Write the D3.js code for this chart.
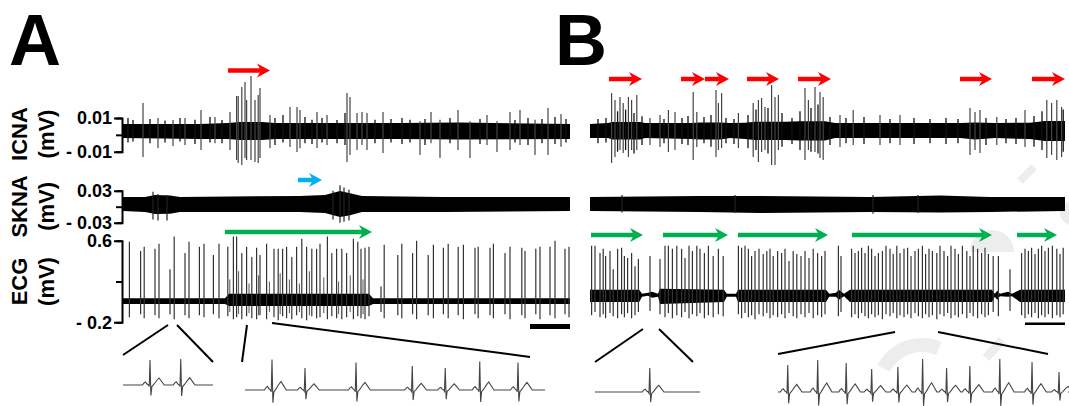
<!DOCTYPE html>
<html>
<head>
<meta charset="utf-8">
<script src="https://cdn.jsdelivr.net/npm/d3@7"></script>
<style>
  body { margin: 0; background: #fff; }
  svg { display: block; font-family: "Liberation Sans", Arial, sans-serif; }
</style>
</head>
<body>
<svg id="fig" width="1069" height="406"></svg>
<script>
// ---------- data (time in s, amplitude in mV) ----------
// noise band breakpoints: [t, upper, lower]
const icnaBandA = [[0,0.0064,-0.0019],[19.25,0.0064,-0.0025],[26.25,0.0070,-0.0025],[29.25,0.0076,-0.0031],[34.75,0.0076,-0.0031],[38,0.0070,-0.0025],[69.25,0.0070,-0.0025],[84.25,0.0073,-0.0028],[111.75,0.0064,-0.0025]];
const icnaBandB = [[0,0.0064,-0.0019],[4.5,0.0070,-0.0019],[5.5,0.0076,-0.0028],[12.5,0.0076,-0.0028],[13.75,0.0070,-0.0019],[25,0.0070,-0.0025],[27.5,0.0074,-0.0028],[32.5,0.0074,-0.0028],[35,0.0070,-0.0019],[38.75,0.0072,-0.0025],[41.25,0.0078,-0.0030],[48.75,0.0078,-0.0030],[52.5,0.0080,-0.0033],[58.75,0.0080,-0.0033],[61.25,0.0070,-0.0019],[92.5,0.0070,-0.0019],[96.25,0.0074,-0.0028],[101.25,0.0070,-0.0019],[110,0.0072,-0.0025],[113.75,0.0082,-0.0036],[118.75,0.0082,-0.0036]];
// spikes: [t, max, min]
const icnaSpikesA = [[5,0.0189,-0.0131],[8.75,0.0100,-0.0078],[12.5,0.0088,-0.0066],[15.5,0.0100,-0.0060],[19.5,0.0147,-0.0090],[23,0.0106,-0.0050],[26.75,0.0136,-0.0090],[28.4,0.0230,-0.0149],[28.8,0.0230,-0.0167],[29.7,0.0284,-0.0179],[30.5,0.0313,-0.0137],[30.9,0.0207,-0.0149],[32,0.0349,-0.0149],[33,0.0207,-0.0161],[33.8,0.0236,-0.0167],[34.25,0.0278,-0.0137],[36.75,0.0118,-0.0078],[41.75,0.0165,-0.0072],[43.5,0.0165,-0.0102],[44.25,0.0147,-0.0080],[48.5,0.0136,-0.0078],[51,0.0118,-0.0060],[56,0.0249,-0.0161],[56.75,0.0225,-0.0119],[58.5,0.0130,-0.0090],[59.75,0.0136,-0.0060],[61,0.0130,-0.0090],[65,0.0136,-0.0108],[74.25,0.0080,-0.0119],[77,0.0136,-0.0050],[79.25,0.0090,-0.0137],[83.75,0.0147,-0.0090],[86.75,0.0080,-0.0137],[91,0.0118,-0.0060],[93.5,0.0080,-0.0102],[96.75,0.0136,-0.0090],[99.25,0.0147,-0.0060],[103,0.0090,-0.0119],[106.25,0.0159,-0.0119],[109.5,0.0124,-0.0070]];
// small hairs poking out of the band
const icnaHairsA = [[1.25,0.0100,-0.0045],[2.5,0.0088,-0.0040],[6.75,0.0094,-0.0050],[10.5,0.0085,-0.0045],[14.25,0.0100,-0.0040],[18,0.0090,-0.0055],[21.75,0.0106,-0.0045],[24.75,0.0088,-0.0050],[38,0.0100,-0.0060],[40,0.0118,-0.0045],[45.5,0.0106,-0.0050],[47.25,0.0090,-0.0055],[49.75,0.0100,-0.0045],[53.5,0.0088,-0.0050],[55.5,0.0130,-0.0060],[63,0.0090,-0.0050],[67,0.0094,-0.0045],[69.75,0.0100,-0.0055],[71.75,0.0090,-0.0045],[75.5,0.0094,-0.0060],[81.75,0.0100,-0.0050],[89.25,0.0094,-0.0055],[98,0.0088,-0.0045],[101.25,0.0100,-0.0060],[104.75,0.0094,-0.0050],[108,0.0106,-0.0055],[110.75,0.0094,-0.0045]];
const icnaSpikesB = [[5.4,0.0248,-0.0167],[6.25,0.0207,-0.0131],[7.5,0.0225,-0.0090],[8.3,0.0189,-0.0108],[9.6,0.0225,-0.0131],[10.4,0.0207,-0.0090],[11.7,0.0237,-0.0090],[15,0.0100,-0.0060],[17.5,0.0118,-0.0072],[19.6,0.0147,-0.0102],[21.25,0.0136,-0.0090],[25.8,0.0254,-0.0149],[26.7,0.0136,-0.0072],[31.5,0.0266,-0.0131],[32.1,0.0189,-0.0090],[32.9,0.0248,-0.0078],[37.1,0.0130,-0.0078],[40.8,0.0189,-0.0131],[42.1,0.0207,-0.0161],[42.9,0.0219,-0.0102],[43.75,0.0165,-0.0090],[45.4,0.0296,-0.0179],[46.25,0.0225,-0.0179],[47.1,0.0237,-0.0090],[53.75,0.0278,-0.0149],[54.6,0.0207,-0.0090],[56.25,0.0284,-0.0102],[57.5,0.0254,-0.0137],[58.3,0.0225,-0.0149],[62.5,0.0118,-0.0072],[65.8,0.0147,-0.0060],[72.5,0.0118,-0.0060],[77.5,0.0118,-0.0060],[95,0.0159,-0.0120],[96.25,0.0136,-0.0090],[97.5,0.0147,-0.0108],[101.7,0.0106,-0.0060],[108.75,0.0147,-0.0072],[114.2,0.0207,-0.0137],[115.4,0.0189,-0.0120],[116.7,0.0207,-0.0149],[117.9,0.0165,-0.0131]];
const icnaHairsB = [[2,0.0094,-0.0050],[4,0.0100,-0.0045],[6.9,0.0140,-0.0100],[8.9,0.0150,-0.0090],[11,0.0130,-0.0110],[13,0.0110,-0.0060],[18.5,0.0094,-0.0050],[23,0.0100,-0.0055],[24.5,0.0112,-0.0060],[28.5,0.0106,-0.0050],[30.25,0.0118,-0.0070],[34,0.0100,-0.0050],[36,0.0094,-0.0055],[39.5,0.0118,-0.0080],[41.5,0.0150,-0.0090],[44.5,0.0160,-0.0110],[48,0.0130,-0.0070],[50.5,0.0100,-0.0055],[52.5,0.0140,-0.0090],[55.25,0.0160,-0.0100],[57,0.0180,-0.0110],[60,0.0106,-0.0060],[64,0.0100,-0.0050],[68.5,0.0106,-0.0055],[75,0.0094,-0.0050],[81,0.0100,-0.0055],[85,0.0094,-0.0050],[89,0.0100,-0.0055],[92,0.0094,-0.0050],[99,0.0100,-0.0060],[104,0.0094,-0.0050],[106.5,0.0100,-0.0055],[111,0.0112,-0.0070],[113,0.0140,-0.0090],[118.3,0.0150,-0.0100]];

const sknaBandA = [[0,0.0182,-0.0081],[5.5,0.0182,-0.0099],[8,0.0220,-0.0137],[11.75,0.0210,-0.0130],[14.25,0.0182,-0.0099],[44.25,0.0201,-0.0099],[50.5,0.0220,-0.0118],[54.25,0.0295,-0.0193],[56.75,0.0250,-0.0160],[59.75,0.0201,-0.0099],[80,0.0182,-0.0099],[111.75,0.0182,-0.0081]];
const sknaBandB = [[0,0.0182,-0.0081],[27.5,0.0201,-0.0099],[42.5,0.0201,-0.0118],[70,0.0182,-0.0099],[87.5,0.0210,-0.0110],[100,0.0182,-0.0099],[118.75,0.0182,-0.0081]];
const sknaSpikesA = [[7.5,0.028,-0.024],[8.75,0.024,-0.026],[11,0.022,-0.026],[52.5,0.030,-0.024],[54.25,0.040,-0.030],[55.25,0.036,-0.028],[56.5,0.032,-0.026]];
const sknaSpikesB = [[8,0.022,-0.011],[36.25,0.022,-0.012],[70.75,0.022,-0.013],[82,0.022,-0.012]];

const ecgBandA = [[0,0.035,-0.02],[25.5,0.035,-0.02],[26.5,0.08,-0.04],[61.5,0.08,-0.04],[62.5,0.035,-0.02],[111.75,0.035,-0.02]];
const ecgBandB = [[0,0.12,0.0],[12.3,0.12,0.0],[13,0.08,0.05],[14.5,0.09,0.06],[15.5,0.10,0.04],[17,0.08,0.05],[17.5,0.13,-0.02],[33.5,0.12,0.0],[34.2,0.08,0.05],[36.5,0.08,0.05],[37,0.12,0.0],[59,0.12,0.0],[59.8,0.08,0.05],[61.5,0.09,0.05],[62.2,0.12,0.02],[63.5,0.08,0.055],[65,0.12,0.0],[100.5,0.12,0.0],[101.2,0.08,0.05],[101.8,0.11,0.02],[102.5,0.08,0.055],[104.5,0.10,0.05],[105.5,0.08,0.055],[107.5,0.12,0.0],[118.75,0.12,0.0]];
// beats: [t, R peak, S trough]
const ecgBeatsA = [[1.6,0.59,-0.15],[4.4,0.50,-0.12],[5.3,0.54,-0.16],[8.0,0.52,-0.13],[9.0,0.57,-0.16],[11.75,0.32,-0.12],[12.8,0.64,-0.17],[15.5,0.48,-0.13],[16.5,0.59,-0.16],[19.1,0.54,-0.13],[20.25,0.57,-0.15],[22.6,0.46,-0.12],[24.0,0.57,-0.16],[26.2,0.54,-0.14],[27.6,0.64,-0.17],[28.4,0.64,-0.15],[29.7,0.48,-0.17],[30.9,0.54,-0.14],[32.2,0.44,-0.16],[33.4,0.53,-0.17],[34.25,0.46,-0.13],[35.9,0.57,-0.17],[37.75,0.52,-0.15],[38.8,0.52,-0.18],[39.9,0.52,-0.14],[40.9,0.54,-0.16],[42.2,0.44,-0.17],[43.4,0.54,-0.13],[44.7,0.62,-0.16],[45.9,0.54,-0.18],[47.2,0.52,-0.14],[48.4,0.52,-0.16],[49.25,0.57,-0.15],[51.1,0.64,-0.17],[52.2,0.48,-0.14],[53.4,0.52,-0.16],[54.7,0.52,-0.17],[55.9,0.48,-0.15],[57.6,0.62,-0.17],[58.7,0.59,-0.14],[59.5,0.52,-0.16],[60.5,0.53,-0.17],[61.5,0.54,-0.14],[64.5,0.15,-0.10],[65.3,0.56,-0.16],[68.7,0.46,-0.13],[69.7,0.57,-0.16],[72.4,0.48,-0.12],[73.4,0.60,-0.17],[76.3,0.46,-0.13],[77.6,0.56,-0.16],[80.1,0.53,-0.12],[81.3,0.57,-0.16],[83.8,0.54,-0.13],[85.1,0.56,-0.17],[88.0,0.53,-0.12],[88.8,0.54,-0.16],[91.75,0.53,-0.13],[92.6,0.57,-0.16],[95.5,0.48,-0.12],[96.75,0.54,-0.17],[99.7,0.53,-0.13],[100.5,0.50,-0.16],[103.2,0.52,-0.12],[104.25,0.54,-0.17],[106.75,0.54,-0.13],[108.0,0.60,-0.16],[110.5,0.52,-0.12],[111.5,0.54,-0.15]];
// extra QRS fragments in the fast stretch of A
const ecgFragA = [[26.7,0.22,-0.10],[28.9,0.30,-0.12],[31.5,0.18,-0.11],[33.9,0.26,-0.13],[36.6,0.20,-0.10],[39.3,0.28,-0.12],[41.6,0.22,-0.11],[44.1,0.18,-0.10],[46.6,0.30,-0.13],[50.2,0.24,-0.11],[53.9,0.20,-0.12],[56.8,0.26,-0.10],[60.0,0.22,-0.12]];
const ecgBeatsB = [[0.4,0.55,-0.13],[1.25,0.55,-0.10],[2.5,0.48,-0.15],[3.3,0.52,-0.12],[3.9,0.45,-0.16],[5.0,0.50,-0.11],[5.8,0.32,-0.14],[6.9,0.52,-0.16],[7.9,0.53,-0.12],[8.6,0.45,-0.15],[9.4,0.43,-0.11],[10.4,0.48,-0.16],[11.25,0.35,-0.13],[12.1,0.42,-0.10],[15.0,0.45,-0.09],[17.5,0.42,-0.12],[18.75,0.55,-0.15],[19.6,0.55,-0.11],[20.6,0.52,-0.16],[21.7,0.55,-0.13],[22.9,0.52,-0.15],[23.75,0.43,-0.10],[24.75,0.55,-0.16],[25.6,0.50,-0.12],[26.7,0.55,-0.14],[27.5,0.52,-0.11],[28.6,0.48,-0.16],[29.6,0.55,-0.13],[30.8,0.45,-0.15],[32.1,0.52,-0.12],[33.3,0.45,-0.14],[37.1,0.55,-0.12],[37.9,0.53,-0.16],[38.75,0.55,-0.11],[39.6,0.52,-0.15],[40.4,0.45,-0.13],[41.25,0.50,-0.17],[42.25,0.52,-0.12],[43.3,0.47,-0.14],[44.2,0.50,-0.11],[45.0,0.52,-0.16],[45.8,0.45,-0.13],[46.9,0.50,-0.15],[47.9,0.48,-0.12],[48.75,0.52,-0.16],[49.75,0.40,-0.11],[50.8,0.50,-0.14],[51.7,0.47,-0.16],[52.75,0.45,-0.12],[53.75,0.50,-0.15],[54.75,0.43,-0.11],[55.8,0.52,-0.16],[56.9,0.48,-0.13],[57.9,0.45,-0.15],[58.75,0.50,-0.12],[62.1,0.55,-0.14],[62.75,0.45,-0.10],[65.4,0.52,-0.15],[66.25,0.48,-0.12],[67.1,0.50,-0.16],[67.9,0.53,-0.11],[68.75,0.48,-0.14],[69.6,0.55,-0.16],[70.4,0.52,-0.12],[71.25,0.45,-0.15],[72.1,0.48,-0.13],[73.1,0.50,-0.17],[74.0,0.55,-0.12],[75.0,0.52,-0.14],[75.8,0.47,-0.11],[76.7,0.55,-0.16],[77.5,0.48,-0.13],[78.5,0.52,-0.15],[79.4,0.53,-0.12],[80.25,0.45,-0.16],[81.25,0.50,-0.11],[82.1,0.52,-0.14],[83.1,0.55,-0.16],[83.9,0.47,-0.12],[84.75,0.52,-0.15],[85.6,0.50,-0.13],[86.7,0.48,-0.17],[87.5,0.55,-0.12],[88.5,0.50,-0.14],[89.4,0.45,-0.11],[90.25,0.55,-0.16],[91.25,0.52,-0.13],[92.1,0.47,-0.15],[93.1,0.55,-0.12],[94.2,0.50,-0.16],[95.0,0.45,-0.11],[95.8,0.55,-0.14],[96.9,0.52,-0.16],[97.9,0.48,-0.12],[98.75,0.53,-0.15],[99.6,0.47,-0.13],[100.8,0.45,-0.10],[102.1,0.45,-0.14],[105.0,0.32,-0.09],[107.9,0.48,-0.13],[108.75,0.52,-0.16],[109.6,0.50,-0.12],[110.4,0.53,-0.15],[111.25,0.47,-0.11],[112.1,0.52,-0.16],[112.9,0.55,-0.13],[113.75,0.50,-0.15],[114.6,0.53,-0.12],[115.6,0.55,-0.16],[116.7,0.52,-0.13],[117.5,0.47,-0.15],[118.3,0.53,-0.12]];

// expanded ECG insets: one beat shape [dt s, fraction of R], beats [t, R mV]
const beatShape = [[-0.10,0],[-0.08,0.08],[-0.06,0.12],[-0.04,0.04],[-0.02,0],[-0.01,-0.06],[0,1],[0.012,-0.42],[0.025,-0.06],[0.05,0.02],[0.09,0.18],[0.12,0.28],[0.15,0.16],[0.19,0]];
const insetBeatsA1 = [[0.36,0.50],[0.77,0.52]];
const insetBeatsA2 = [[0.36,0.61],[0.80,0.44],[1.48,0.55],[2.23,0.48],[2.67,0.44],[3.13,0.57],[3.64,0.55]];
const insetBeatsB1 = [[0.73,0.48]];
const insetBeatsB2 = [[0.13,0.54],[0.53,0.64],[0.91,0.58],[1.25,0.46],[1.60,0.50],[1.93,0.66],[2.25,0.48],[2.56,0.52],[2.96,0.66],[3.39,0.60],[3.75,0.40]];

// zoom windows on the trace [t start, t end]
const zoomA = [[11.25,13.5],[31,37.25]];
const zoomB = [[13.25,17.25],[76.25,87]];

// episode arrows [t start, t end]
const redArrowsA = [[26.25,36.75]];
const blueArrowsA = [[43.75,49.75]];
const greenArrowsA = [[25.5,62.25]];
const redArrowsB = [[4.75,13],[22.75,28.75],[28.75,34.75],[39.25,47.25],[52,60.25],[92.5,100.5],[110.5,118.75]];
const greenArrowsB = [[0.25,13.25],[18.25,34.5],[37,59.5],[65.5,100.5],[106.75,116.75]];

const rowLabels = ['ICNA', 'SKNA', 'ECG'];
const icnaTicks = [-0.01, 0, 0.01], icnaTickText = ['- 0.01', '', '0.01'];
const sknaTicks = [-0.03, 0, 0.03], sknaTickText = ['- 0.03', '', '0.03'];
const ecgTicks = [-0.2, 0.2, 0.6], ecgTickText = ['- 0.2', '', '0.6'];
const scaleBarSec = 10;

// ---------- layout ----------
const svg = d3.select('#fig');
const font = '"Liberation Sans", Arial, sans-serif';

const xA = d3.scaleLinear().domain([0, 111.75]).range([123, 570]);
const xB = d3.scaleLinear().domain([0, 118.75]).range([590, 1065]);
const yIcna = d3.scaleLinear().domain([-0.01, 0.01]).range([151.7, 118]);
const ySkna = d3.scaleLinear().domain([-0.03, 0.03]).range([222.7, 190.7]);
const yEcg = d3.scaleLinear().domain([-0.2, 0.6]).range([322.3, 240.7]);

// faint watermark in the background
const wm = svg.append('g').attr('fill', '#ededed');
wm.append('path').attr('transform', 'translate(922,388)')
  .attr('d', d3.arc().innerRadius(36).outerRadius(50).startAngle(-1.1).endAngle(0.4)());
wm.append('path').attr('transform', 'translate(992,252)')
  .attr('d', d3.arc().innerRadius(0).outerRadius(22).startAngle(-Math.PI / 2).endAngle(Math.PI / 2)());
wm.append('line').attr('x1', 1020).attr('y1', 181).attr('x2', 1034).attr('y2', 167)
  .attr('stroke', '#ededed').attr('stroke-width', 8);
wm.append('circle').attr('cx', 1072).attr('cy', 213).attr('r', 12);
wm.append('line').attr('x1', 986).attr('y1', 358).attr('x2', 1002).attr('y2', 340)
  .attr('stroke', '#ededed').attr('stroke-width', 9);

const defs = svg.append('defs');
[['clipA', xA], ['clipB', xB]].forEach(([id, x]) => {
  defs.append('clipPath').attr('id', id).append('rect')
    .attr('x', x.range()[0]).attr('y', 0)
    .attr('width', x.range()[1] - x.range()[0]).attr('height', 406);
});

function band(g, x, y, pts) {
  const area = d3.area().x(d => x(d[0])).y0(d => y(d[2])).y1(d => y(d[1]));
  g.append('path').datum(pts).attr('d', area).attr('fill', '#000');
}
function spikes(g, x, y, pts, color, w) {
  g.append('g').selectAll('line').data(pts).join('line')
    .attr('x1', d => x(d[0])).attr('x2', d => x(d[0]))
    .attr('y1', d => y(d[1])).attr('y2', d => y(d[2]))
    .attr('stroke', color).attr('stroke-width', w);
}

const gA = svg.append('g').attr('clip-path', 'url(#clipA)');
const gB = svg.append('g').attr('clip-path', 'url(#clipB)');

band(gA, xA, yIcna, icnaBandA);
spikes(gA, xA, yIcna, icnaHairsA, '#111', 1.3);
spikes(gA, xA, yIcna, icnaSpikesA, '#444', 1.2);
band(gA, xA, ySkna, sknaBandA);
spikes(gA, xA, ySkna, sknaSpikesA, '#222', 1.2);
spikes(gA, xA, yEcg, ecgFragA, '#555', 1);
band(gA, xA, yEcg, ecgBandA);
spikes(gA, xA, yEcg, ecgBeatsA, '#333', 1.2);

band(gB, xB, yIcna, icnaBandB);
spikes(gB, xB, yIcna, icnaHairsB, '#111', 1.3);
spikes(gB, xB, yIcna, icnaSpikesB, '#444', 1.2);
band(gB, xB, ySkna, sknaBandB);
spikes(gB, xB, ySkna, sknaSpikesB, '#222', 1.2);
band(gB, xB, yEcg, ecgBandB);
spikes(gB, xB, yEcg, ecgBeatsB, '#333', 1.2);

// y axes (bracket style) for panel A
function yAxis(y, vals, labels) {
  const ax = d3.axisLeft(y).tickValues(vals)
    .tickSizeInner(6).tickSizeOuter(8).tickPadding(4)
    .tickFormat((d, i) => labels[i]);
  const g = svg.append('g').attr('transform', 'translate(122,0)').call(ax);
  g.selectAll('path, line').attr('stroke', '#000').attr('stroke-width', 2);
  g.selectAll('text').attr('fill', '#000').attr('font-family', font)
    .attr('font-size', 18).attr('font-weight', 'bold');
}
yAxis(yIcna, icnaTicks, icnaTickText);
yAxis(ySkna, sknaTicks, sknaTickText);
yAxis(yEcg, ecgTicks, ecgTickText);

// rotated row labels
const labelY = [yIcna(0.0005), ySkna(0.0005), yEcg(0.2)];
rowLabels.forEach((name, i) => {
  [[name, 27], ['(mV)', 54]].forEach(([txt, x]) => {
    svg.append('text').attr('transform', `translate(${x},${labelY[i]}) rotate(-90)`)
      .attr('text-anchor', 'middle').attr('font-family', font)
      .attr('font-weight', 'bold').attr('font-size', 22).text(txt);
  });
});

// panel letters
svg.append('text').attr('x', 9).attr('y', 65).attr('font-family', font)
  .attr('font-weight', 'bold').attr('font-size', 72).text('A');
svg.append('text').attr('x', 555).attr('y', 65).attr('font-family', font)
  .attr('font-weight', 'bold').attr('font-size', 72).text('B');

// arrows
function arrows(x, list, yy, color) {
  const g = svg.append('g');
  list.forEach(([t0, t1]) => {
    const x0 = x(t0), x1 = x(t1);
    g.append('line').attr('x1', x0).attr('x2', x1 - 8).attr('y1', yy).attr('y2', yy)
      .attr('stroke', color).attr('stroke-width', 4.5);
    g.append('path').attr('fill', color)
      .attr('d', `M${x1},${yy} L${x1 - 13},${yy - 7} L${x1 - 9},${yy} L${x1 - 13},${yy + 7} Z`);
  });
}
arrows(xA, redArrowsA, 70.5, '#ff0000');
arrows(xA, blueArrowsA, 180, '#00b0f0');
arrows(xA, greenArrowsA, 232, '#00b050');
arrows(xB, redArrowsB, 79, '#ff0000');
arrows(xB, greenArrowsB, 235, '#00b050');

// time scale bars
svg.append('line').attr('x1', xA(xA.domain()[1] - scaleBarSec)).attr('x2', xA.range()[1])
  .attr('y1', 326.5).attr('y2', 326.5).attr('stroke', '#000').attr('stroke-width', 5);
svg.append('line').attr('x1', xB(xB.domain()[1] - scaleBarSec)).attr('x2', xB.range()[1])
  .attr('y1', 323.8).attr('y2', 323.8).attr('stroke', '#000').attr('stroke-width', 2.5);

// expanded insets
function inset(beats, dom, range, base) {
  const x = d3.scaleLinear().domain(dom).range(range);
  const y = d3.scaleLinear().domain([0, 1]).range([base, base - 50]);
  const pts = [[dom[0], 0]];
  beats.forEach(([t, r]) => beatShape.forEach(([dt, a]) => pts.push([t + dt, a * r])));
  pts.push([dom[1], 0]);
  svg.append('path').datum(pts)
    .attr('d', d3.line().x(d => x(d[0])).y(d => y(d[1])))
    .attr('fill', 'none').attr('stroke', '#444').attr('stroke-width', 1.1);
  return x;
}
const iA1 = inset(insetBeatsA1, [0, 1.2], [123, 213], 385);
const iA2 = inset(insetBeatsA2, [0, 4], [245, 545], 390);
const iB1 = inset(insetBeatsB1, [0, 1.4], [595, 700], 392);
const iB2 = inset(insetBeatsB2, [0, 3.87], [778, 1068], 392);

// connector lines from trace window to inset
const connectors = [
  [xA(zoomA[0][0]), 325, iA1.range()[0], 355],
  [xA(zoomA[0][1]), 325, iA1.range()[1], 362],
  [xA(zoomA[1][0]), 325, iA2.range()[0] - 3, 362],
  [xA(zoomA[1][1]), 323, iA2.range()[1] - 15, 357],
  [xB(zoomB[0][0]), 329, iB1.range()[0], 362],
  [xB(zoomB[0][1]), 329, iB1.range()[1] - 7, 362],
  [xB(zoomB[1][0]), 332, iB2.range()[0], 354],
  [xB(zoomB[1][1]), 332, iB2.range()[1] - 20, 354]
];
svg.append('g').selectAll('line').data(connectors).join('line')
  .attr('x1', d => d[0]).attr('y1', d => d[1]).attr('x2', d => d[2]).attr('y2', d => d[3])
  .attr('stroke', '#000').attr('stroke-width', 2);
</script>
</body>
</html>
